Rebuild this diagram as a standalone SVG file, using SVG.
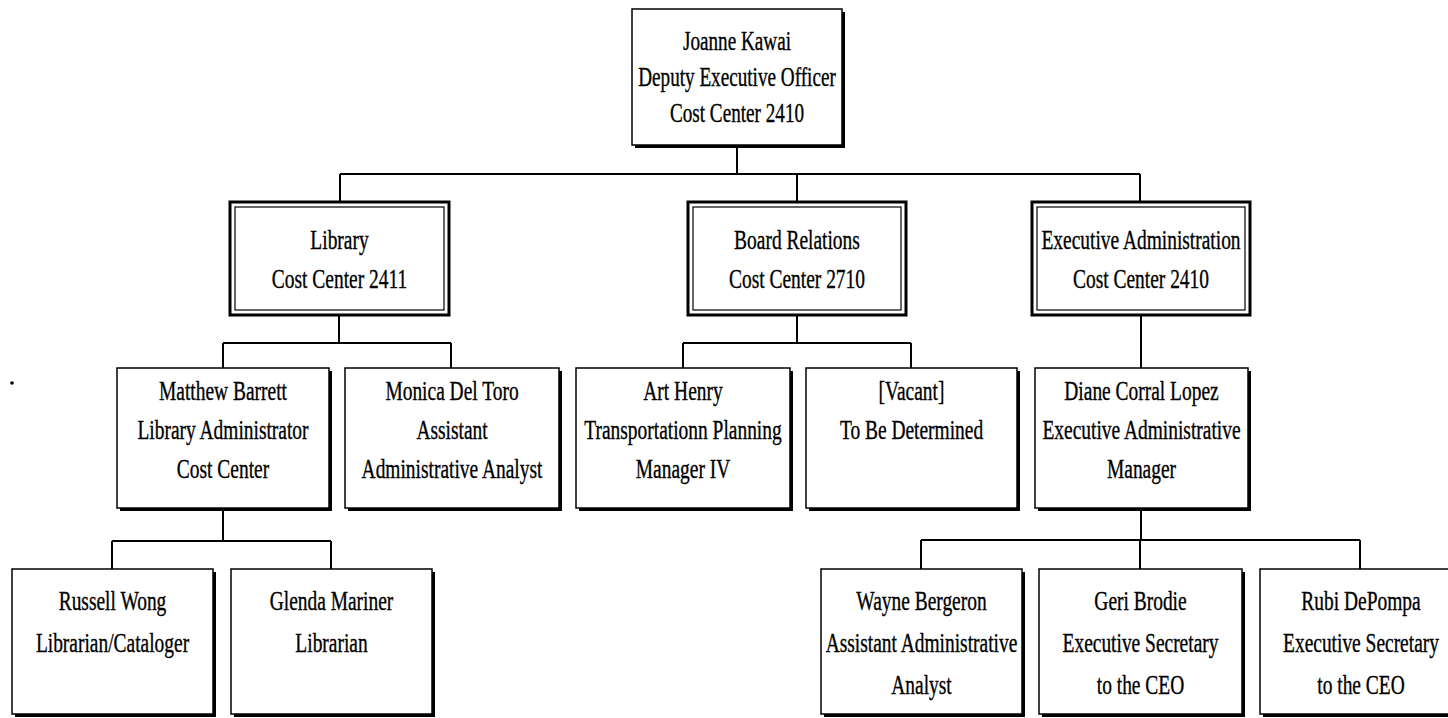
<svg xmlns="http://www.w3.org/2000/svg" width="1448" height="718" viewBox="0 0 1448 718">
<style>
.bg{fill:#fff}
.box{fill:#fff;stroke:#000;stroke-width:1.5}
.sh{fill:#000}
.outer{fill:#fff;stroke:#000;stroke-width:3}
.inner{fill:none;stroke:#000;stroke-width:1.2}
.conn path{stroke:#000;stroke-width:2;fill:none}
.t{font-family:"Liberation Serif",serif;font-size:27px;text-anchor:middle;fill:#000;stroke:#000;stroke-width:0.35}
</style>
<rect class="bg" x="0" y="0" width="1448" height="718"/>
<circle cx="12" cy="383" r="1.8" fill="#000"/>
<g id="connectors" class="conn">
<path d="M737 145V174M340 174H1140M340 174V202M797 174V202M1140 174V202"/>
<path d="M339 315V343M223 343H451M223 343V368M451 343V368"/>
<path d="M797 315V343M683 343H911M683 343V368M911 343V368"/>
<path d="M1141 315V368"/>
<path d="M223 508V541M112 541H331M112 541V569M331 541V569"/>
<path d="M1141 508V540M921 540H1360M921 540V569M1140 540V569M1360 540V569"/>
</g>
<g id="n-kawai">
<rect class="sh" x="635" y="12" width="210" height="136"/>
<rect class="box" x="632" y="9" width="210" height="136"/>
<g transform="translate(737 0) scale(0.71 1)"><text class="t" x="0" y="50">Joanne Kawai</text><text class="t" x="0" y="86">Deputy Executive Officer</text><text class="t" x="0" y="122">Cost Center 2410</text></g>
</g>
<g id="n-library">
<rect class="outer" x="230" y="202" width="219" height="113"/>
<rect class="inner" x="235" y="207" width="209" height="103"/>
<g transform="translate(339.5 0) scale(0.72 1)"><text class="t" x="0" y="249">Library</text><text class="t" x="0" y="288">Cost Center 2411</text></g>
</g>
<g id="n-board">
<rect class="outer" x="688" y="202" width="218" height="113"/>
<rect class="inner" x="693" y="207" width="208" height="103"/>
<g transform="translate(797 0) scale(0.72 1)"><text class="t" x="0" y="249">Board Relations</text><text class="t" x="0" y="288">Cost Center 2710</text></g>
</g>
<g id="n-execadmin">
<rect class="outer" x="1032" y="202" width="218" height="113"/>
<rect class="inner" x="1037" y="207" width="208" height="103"/>
<g transform="translate(1141 0) scale(0.72 1)"><text class="t" x="0" y="249">Executive Administration</text><text class="t" x="0" y="288">Cost Center 2410</text></g>
</g>
<g id="n-barrett">
<rect class="sh" x="120" y="371" width="212" height="140"/>
<rect class="box" x="117" y="368" width="212" height="140"/>
<g transform="translate(223 0) scale(0.72 1)"><text class="t" x="0" y="400">Matthew Barrett</text><text class="t" x="0" y="439">Library Administrator</text><text class="t" x="0" y="478">Cost Center</text></g>
</g>
<g id="n-deltoro">
<rect class="sh" x="348" y="371" width="214" height="140"/>
<rect class="box" x="345" y="368" width="214" height="140"/>
<g transform="translate(452 0) scale(0.72 1)"><text class="t" x="0" y="400">Monica Del Toro</text><text class="t" x="0" y="439">Assistant</text><text class="t" x="0" y="478">Administrative Analyst</text></g>
</g>
<g id="n-henry">
<rect class="sh" x="579" y="371" width="214" height="140"/>
<rect class="box" x="576" y="368" width="214" height="140"/>
<g transform="translate(683 0) scale(0.72 1)"><text class="t" x="0" y="400">Art Henry</text><text class="t" x="0" y="439">Transportationn Planning</text><text class="t" x="0" y="478">Manager IV</text></g>
</g>
<g id="n-vacant">
<rect class="sh" x="809" y="371" width="211" height="140"/>
<rect class="box" x="806" y="368" width="211" height="140"/>
<g transform="translate(911.5 0) scale(0.72 1)"><text class="t" x="0" y="400">[Vacant]</text><text class="t" x="0" y="439">To Be Determined</text></g>
</g>
<g id="n-lopez">
<rect class="sh" x="1038" y="371" width="213" height="140"/>
<rect class="box" x="1035" y="368" width="213" height="140"/>
<g transform="translate(1141.5 0) scale(0.72 1)"><text class="t" x="0" y="400">Diane Corral Lopez</text><text class="t" x="0" y="439">Executive Administrative</text><text class="t" x="0" y="478">Manager</text></g>
</g>
<g id="n-wong">
<rect class="sh" x="15" y="572" width="201" height="145"/>
<rect class="box" x="12" y="569" width="201" height="145"/>
<g transform="translate(112.5 0) scale(0.72 1)"><text class="t" x="0" y="610">Russell Wong</text><text class="t" x="0" y="652">Librarian/Cataloger</text></g>
</g>
<g id="n-mariner">
<rect class="sh" x="234" y="572" width="201" height="145"/>
<rect class="box" x="231" y="569" width="201" height="145"/>
<g transform="translate(331.5 0) scale(0.72 1)"><text class="t" x="0" y="610">Glenda Mariner</text><text class="t" x="0" y="652">Librarian</text></g>
</g>
<g id="n-bergeron">
<rect class="sh" x="824" y="572" width="201" height="145"/>
<rect class="box" x="821" y="569" width="201" height="145"/>
<g transform="translate(921.5 0) scale(0.72 1)"><text class="t" x="0" y="610">Wayne Bergeron</text><text class="t" x="0" y="652">Assistant Administrative</text><text class="t" x="0" y="694">Analyst</text></g>
</g>
<g id="n-brodie">
<rect class="sh" x="1042" y="572" width="203" height="145"/>
<rect class="box" x="1039" y="569" width="203" height="145"/>
<g transform="translate(1140.5 0) scale(0.72 1)"><text class="t" x="0" y="610">Geri Brodie</text><text class="t" x="0" y="652">Executive Secretary</text><text class="t" x="0" y="694">to the CEO</text></g>
</g>
<g id="n-depompa">
<rect class="sh" x="1263" y="572" width="202" height="145"/>
<rect class="box" x="1260" y="569" width="202" height="145"/>
<g transform="translate(1361 0) scale(0.72 1)"><text class="t" x="0" y="610">Rubi DePompa</text><text class="t" x="0" y="652">Executive Secretary</text><text class="t" x="0" y="694">to the CEO</text></g>
</g>
</svg>
